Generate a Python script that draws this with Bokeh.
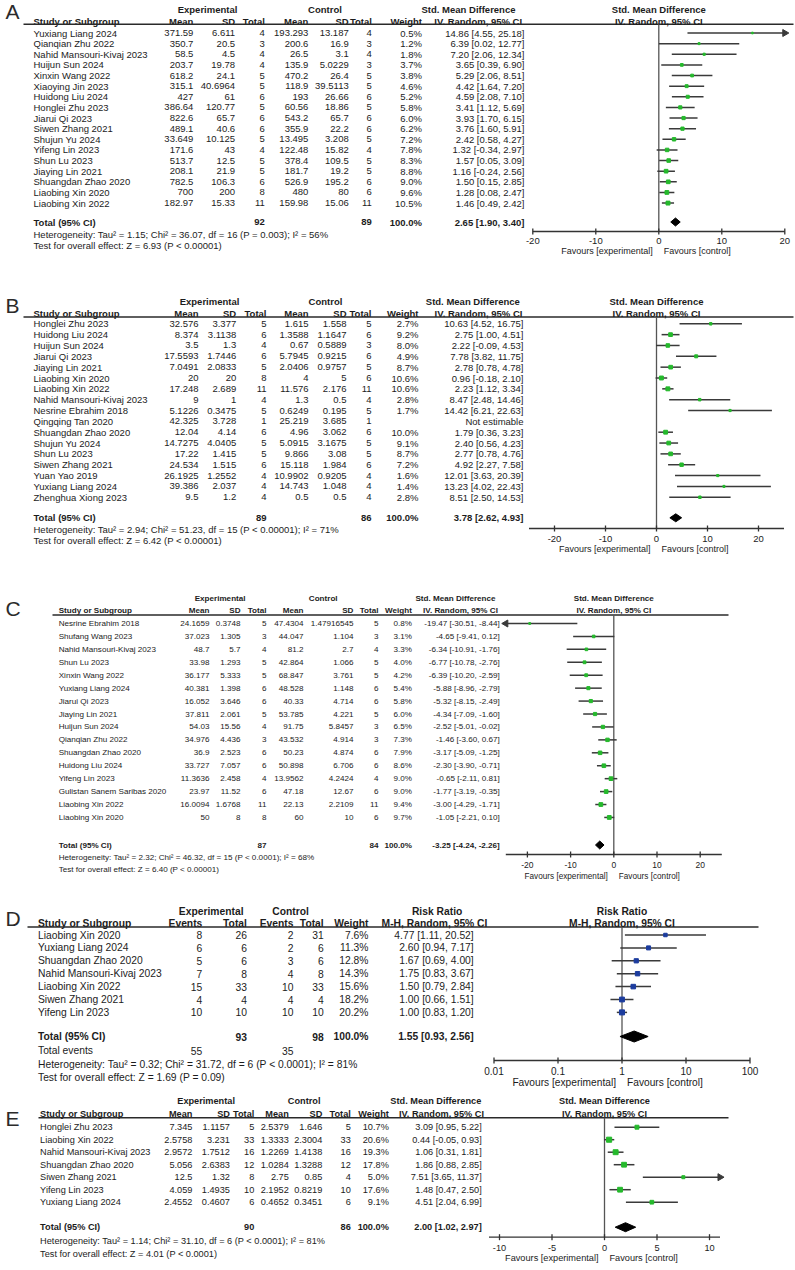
import numpy as np
from bokeh.plotting import figure
from bokeh.models import Range1d, LinearScale
from bokeh.core.properties import value
from bokeh.embed import file_html
from bokeh.resources import INLINE

# ======================= DATA =======================
# ---- Panel A ----
studies_A = ["Yuxiang Liang 2024", "Qianqian Zhu 2022", "Nahid Mansouri-Kivaj 2023", "Huijun Sun 2024",
             "Xinxin Wang 2022", "Xiaoying Jin 2023", "Huidong Liu 2024", "Honglei Zhu 2023", "Jiarui Qi 2023",
             "Siwen Zhang 2021", "Shujun Yu 2024", "Yifeng Lin 2023", "Shun Lu 2023", "Jiaying Lin 2021",
             "Shuangdan Zhao 2020", "Liaobing Xin 2020", "Liaobing Xin 2022"]
exp_mean_A = ["371.59", "350.7", "58.5", "203.7", "618.2", "315.1", "427", "386.64", "822.6", "489.1", "33.649",
              "171.6", "513.7", "208.1", "782.5", "700", "182.97"]
exp_sd_A = ["6.611", "20.5", "4.5", "19.78", "24.1", "40.6964", "61", "120.77", "65.7", "40.6", "10.125", "43",
            "12.5", "21.9", "106.3", "200", "15.33"]
exp_n_A = [4, 3, 4, 4, 5, 5, 6, 5, 6, 6, 5, 4, 5, 5, 6, 8, 11]
ctl_mean_A = ["193.293", "200.6", "26.5", "135.9", "470.2", "118.9", "193", "60.56", "543.2", "355.9", "13.495",
              "122.48", "378.4", "181.7", "526.9", "480", "159.98"]
ctl_sd_A = ["13.187", "16.9", "3.1", "5.0229", "26.4", "39.5113", "26.66", "18.86", "65.7", "22.2", "3.208",
            "15.82", "109.5", "19.2", "195.2", "80", "15.06"]
ctl_n_A = [4, 3, 4, 3, 5, 5, 6, 5, 6, 6, 5, 4, 5, 5, 6, 6, 11]
weight_A = [0.5, 1.2, 1.8, 3.7, 3.8, 4.6, 5.2, 5.8, 6.0, 6.2, 7.2, 7.8, 8.3, 8.8, 9.0, 9.6, 10.5]
smd_A = [14.86, 6.39, 7.20, 3.65, 5.29, 4.42, 4.59, 3.41, 3.93, 3.76, 2.42, 1.32, 1.57, 1.16, 1.50, 1.28, 1.46]
lo_A = [4.55, 0.02, 2.06, 0.39, 2.06, 1.64, 2.08, 1.12, 1.70, 1.60, 0.58, -0.34, 0.05, -0.24, 0.15, 0.08, 0.49]
hi_A = [25.18, 12.77, 12.34, 6.90, 8.51, 7.20, 7.10, 5.69, 6.15, 5.91, 4.27, 2.97, 3.09, 2.56, 2.85, 2.47, 2.42]
total_n_A = [92, 89]
total_ci_A = [2.65, 1.90, 3.40]
het_A = "Heterogeneity: Tau² = 1.15; Chi² = 36.07, df = 16 (P = 0.003); I² = 56%"
test_A = "Test for overall effect: Z = 6.93 (P < 0.00001)"

# ---- Panel B ----
studies_B = ["Honglei Zhu 2023", "Huidong Liu 2024", "Huijun Sun 2024", "Jiarui Qi 2023", "Jiaying Lin 2021",
             "Liaobing Xin 2020", "Liaobing Xin 2022", "Nahid Mansouri-Kivaj 2023", "Nesrine Ebrahim 2018",
             "Qingqing Tan 2020", "Shuangdan Zhao 2020", "Shujun Yu 2024", "Shun Lu 2023", "Siwen Zhang 2021",
             "Yuan Yao 2019", "Yuxiang Liang 2024", "Zhenghua Xiong 2023"]
exp_mean_B = ["32.576", "8.374", "3.5", "17.5593", "7.0491", "20", "17.248", "9", "5.1226", "42.325", "12.04",
              "14.7275", "17.22", "24.534", "26.1925", "39.386", "9.5"]
exp_sd_B = ["3.377", "3.1138", "1.3", "1.7446", "2.0833", "20", "2.689", "1", "0.3475", "3.728", "4.14",
            "4.0405", "1.415", "1.515", "1.2552", "2.037", "1.2"]
exp_n_B = [5, 6, 4, 6, 5, 8, 11, 4, 5, 1, 6, 5, 5, 6, 4, 4, 4]
ctl_mean_B = ["1.615", "1.3588", "0.67", "5.7945", "2.0406", "4", "11.576", "1.3", "0.6249", "25.219", "4.96",
              "5.0915", "9.866", "15.118", "10.9902", "14.743", "0.5"]
ctl_sd_B = ["1.558", "1.1647", "0.5889", "0.9215", "0.9757", "5", "2.176", "0.5", "0.195", "3.685", "3.062",
            "3.1675", "3.08", "1.984", "0.9205", "1.048", "0.5"]
ctl_n_B = [5, 6, 3, 6, 5, 6, 11, 4, 5, 1, 6, 5, 5, 6, 4, 4, 4]
weight_B = [2.7, 9.2, 8.0, 4.9, 8.7, 10.6, 10.6, 2.8, 1.7, None, 10.0, 9.1, 8.7, 7.2, 1.6, 1.4, 2.8]
smd_B = [10.63, 2.75, 2.22, 7.78, 2.78, 0.96, 2.23, 8.47, 14.42, None, 1.79, 2.40, 2.77, 4.92, 12.01, 13.23, 8.51]
lo_B = [4.52, 1.00, -0.09, 3.82, 0.78, -0.18, 1.12, 2.48, 6.21, None, 0.36, 0.56, 0.78, 2.27, 3.63, 4.02, 2.50]
hi_B = [16.75, 4.51, 4.53, 11.75, 4.78, 2.10, 3.34, 14.46, 22.63, None, 3.23, 4.23, 4.76, 7.58, 20.39, 22.43, 14.53]
total_n_B = [89, 86]
total_ci_B = [3.78, 2.62, 4.93]
het_B = "Heterogeneity: Tau² = 2.94; Chi² = 51.23, df = 15 (P < 0.00001); I² = 71%"
test_B = "Test for overall effect: Z = 6.42 (P < 0.00001)"

# ---- Panel C ----
studies_C = ["Nesrine Ebrahim 2018", "Shufang Wang 2023", "Nahid Mansouri-Kivaj 2023", "Shun Lu 2023",
             "Xinxin Wang 2022", "Yuxiang Liang 2024", "Jiarui Qi 2023", "Jiaying Lin 2021", "Huijun Sun 2024",
             "Qianqian Zhu 2022", "Shuangdan Zhao 2020", "Huidong Liu 2024", "Yifeng Lin 2023",
             "Gulistan Sanem Saribas 2020", "Liaobing Xin 2022", "Liaobing Xin 2020"]
exp_mean_C = ["24.1659", "37.023", "48.7", "33.98", "36.177", "40.381", "16.052", "37.811", "54.03", "34.976",
              "36.9", "33.727", "11.3636", "23.97", "16.0094", "50"]
exp_sd_C = ["0.3748", "1.305", "5.7", "1.293", "5.333", "1.398", "3.646", "2.061", "15.56", "4.436", "2.523",
            "7.057", "2.458", "11.52", "1.6768", "8"]
exp_n_C = [5, 3, 4, 5, 5, 6, 6, 5, 4, 3, 6, 6, 4, 6, 11, 8]
ctl_mean_C = ["47.4304", "44.047", "81.2", "42.864", "68.847", "48.528", "40.33", "53.785", "91.75", "43.532",
              "50.23", "50.898", "13.9562", "47.18", "22.13", "60"]
ctl_sd_C = ["1.47916545", "1.104", "2.7", "1.066", "3.761", "1.148", "4.714", "4.221", "5.8457", "4.914", "4.874",
            "6.706", "4.2424", "12.67", "2.2109", "10"]
ctl_n_C = [5, 3, 4, 5, 5, 6, 6, 5, 3, 3, 6, 6, 4, 6, 11, 6]
weight_C = [0.8, 3.1, 3.3, 4.0, 4.2, 5.4, 5.8, 6.0, 6.5, 7.3, 7.9, 8.6, 9.0, 9.0, 9.4, 9.7]
smd_C = [-19.47, -4.65, -6.34, -6.77, -6.39, -5.88, -5.32, -4.34, -2.52, -1.46, -3.17, -2.30, -0.65, -1.77,
         -3.00, -1.05]
lo_C = [-30.51, -9.41, -10.91, -10.78, -10.20, -8.96, -8.15, -7.09, -5.01, -3.60, -5.09, -3.90, -2.11, -3.19,
        -4.29, -2.21]
hi_C = [-8.44, 0.12, -1.76, -2.76, -2.59, -2.79, -2.49, -1.60, -0.02, 0.67, -1.25, -0.71, 0.81, -0.35, -1.71, 0.10]
total_n_C = [87, 84]
total_ci_C = [-3.25, -4.24, -2.26]
het_C = "Heterogeneity: Tau² = 2.32; Chi² = 46.32, df = 15 (P < 0.0001); I² = 68%"
test_C = "Test for overall effect: Z = 6.40 (P < 0.00001)"

# ---- Panel D (risk ratio) ----
studies_D = ["Liaobing Xin 2020", "Yuxiang Liang 2024", "Shuangdan Zhao 2020", "Nahid Mansouri-Kivaj 2023",
             "Liaobing Xin 2022", "Siwen Zhang 2021", "Yifeng Lin 2023"]
exp_events_D = [8, 6, 5, 7, 15, 4, 10]
exp_total_D = [26, 6, 6, 8, 33, 4, 10]
ctl_events_D = [2, 2, 3, 4, 10, 4, 10]
ctl_total_D = [31, 6, 6, 8, 33, 4, 10]
weight_D = [7.6, 11.3, 12.8, 14.3, 15.6, 18.2, 20.2]
rr_D = [4.77, 2.60, 1.67, 1.75, 1.50, 1.00, 1.00]
lo_D = [1.11, 0.94, 0.69, 0.83, 0.79, 0.66, 0.83]
hi_D = [20.52, 7.17, 4.00, 3.67, 2.84, 1.51, 1.20]
total_n_D = [93, 98]
total_events_D = [55, 35]
total_ci_D = [1.55, 0.93, 2.56]
het_D = "Heterogeneity: Tau² = 0.32; Chi² = 31.72, df = 6 (P < 0.0001); I² = 81%"
test_D = "Test for overall effect: Z = 1.69 (P = 0.09)"

# ---- Panel E ----
studies_E = ["Honglei Zhu 2023", "Liaobing Xin 2022", "Nahid Mansouri-Kivaj 2023", "Shuangdan Zhao 2020",
             "Siwen Zhang 2021", "Yifeng Lin 2023", "Yuxiang Liang 2024"]
exp_mean_E = ["7.345", "2.5758", "2.9572", "5.056", "12.5", "4.059", "2.4552"]
exp_sd_E = ["1.1157", "3.231", "1.7512", "2.6383", "1.32", "1.4935", "0.4607"]
exp_n_E = [5, 33, 16, 12, 8, 10, 6]
ctl_mean_E = ["2.5379", "1.3333", "1.2269", "1.0284", "2.75", "2.1952", "0.4652"]
ctl_sd_E = ["1.646", "2.3004", "1.4138", "1.3288", "0.85", "0.8219", "0.3451"]
ctl_n_E = [5, 33, 16, 12, 4, 10, 6]
weight_E = [10.7, 20.6, 19.3, 17.8, 5.0, 17.6, 9.1]
smd_E = [3.09, 0.44, 1.06, 1.86, 7.51, 1.48, 4.51]
lo_E = [0.95, -0.05, 0.31, 0.88, 3.65, 0.47, 2.04]
hi_E = [5.22, 0.93, 1.81, 2.85, 11.37, 2.50, 6.99]
total_n_E = [90, 86]
total_ci_E = [2.00, 1.02, 2.97]
het_E = "Heterogeneity: Tau² = 1.14; Chi² = 31.10, df = 6 (P < 0.0001); I² = 81%"
test_E = "Test for overall effect: Z = 4.01 (P < 0.0001)"

smd_ticks = [-20, -10, 0, 10, 20]
smd_ticks_E = [-10, -5, 0, 5, 10]
rr_ticks = [0.01, 0.1, 1, 10, 100]
rr_tick_labels = ["0.01", "0.1", "1", "10", "100"]

# ======================= STYLE / FIGURE =======================
FONT = "Liberation Sans"
INK = "#1c1c1c"
GREEN = "#25b92c"
BLUE = "#1c3c9e"
CI_COL = "#3a3a3a"

W, H = 795, 1270
p = figure(width=W, height=H, x_range=Range1d(0, W), y_range=Range1d(H, 0),
           output_backend="svg", toolbar_location=None, min_border=0,
           x_axis_location=None, y_axis_location=None)
p.grid.visible = False
p.outline_line_color = None
p.background_fill_color = "white"
p.border_fill_color = "white"


def put(target, xs, ys, texts, size, align="left", bold=False, color=INK, x_offset=0):
    target.text(x=list(xs), y=list(ys), text=list(texts), text_align=align, text_baseline="middle",
                text_font=value(FONT), text_font_size=value(f"{size}px"),
                text_font_style="bold" if bold else "normal", text_color=color, x_offset=x_offset)


def ci_text(e, l, h):
    return f"{e:.2f} [{l:.2f}, {h:.2f}]"


def smd_columns(em, esd, en, cm, csd, cn, w, e, l, h):
    wt = ["" if x is None else f"{x:.1f}%" for x in w]
    ci = ["Not estimable" if a is None else ci_text(a, b, c) for a, b, c in zip(e, l, h)]
    return [em, esd, [str(v) for v in en], cm, csd, [str(v) for v in cn], wt, ci]


def draw_panel(L, names, columns, weights, est, lo, hi, total_cells, total_ci, extra, het, test, F):
    fs = L["fs"]
    put(p, [L["letter_x"]], [L["letter_y"]], [L["letter"]], 21, color="#2b2b2b")
    put(p, [c[0] for c in L["hdr1"]], [L["h1"]] * len(L["hdr1"]), [c[1] for c in L["hdr1"]], fs, "center", True)
    for x, t, a in L["hdr2"]:
        put(p, [x], [L["h2"]], [t], fs, a, True)
    p.segment(x0=[L["lx0"]], y0=[L["line_y"]], x1=[L["lx1"]], y1=[L["line_y"]],
              line_color="#2a2a2a", line_width=1.6)
    ys = np.array([L["row0"] + i * L["dy"] for i in range(len(names))])
    put(p, [L["name_x"]] * len(names), ys, names, fs)
    for x, vals in zip(L["cols"], columns):
        put(p, [x] * len(vals), ys, vals, fs, "right")
    put(p, [L["name_x"]], [L["total_y"]], ["Total (95% CI)"], fs, bold=True)
    for idx, t in total_cells:
        put(p, [L["cols"][idx]], [L["total_y"]], [t], fs, "right", True)
    for label, y, cells in extra:
        put(p, [L["name_x"]], [y], [label], fs)
        for idx, t in cells:
            put(p, [L["cols"][idx]], [y], [t], fs, "right")
    put(p, [L["name_x"]], [L["het_y"]], [het], fs)
    put(p, [L["name_x"]], [L["test_y"]], [test], fs)

    # ---------- forest part (effect scale mapped into its own pixel band) ----------
    tf = np.log10 if F["log"] else (lambda v: np.asarray(v, dtype=float))
    amin, amax = float(tf(F["amin"])), float(tf(F["amax"]))
    sub = p.subplot(x_source=Range1d(amin, amax), y_source=Range1d(H, 0),
                    x_scale=LinearScale(), y_scale=LinearScale(),
                    x_target=Range1d(F["px0"], F["px1"]), y_target=Range1d(H, 0))
    ref = float(tf(F["ref"]))
    put(sub, [ref], [L["h1"]], [F["title"]], fs, "center", True)
    put(sub, [ref], [L["h2"]], [F["subtitle"]], fs, "center", True)
    sub.segment(x0=[ref], y0=[L["line_y"]], x1=[ref], y1=[F["axis_y"]], line_color="#555555", line_width=1.3)

    e = tf(np.array(est, dtype=float))
    l = tf(np.array(lo, dtype=float))
    h = tf(np.array(hi, dtype=float))
    w = np.array(weights, dtype=float)
    ok = ~np.isnan(e)
    lc = np.clip(l, amin, amax)
    hc = np.clip(h, amin, amax)
    sub.segment(x0=lc[ok], y0=ys[ok], x1=hc[ok], y1=ys[ok], line_color=CI_COL, line_width=1.5)
    sizes = 1.0 + 0.9 * np.sqrt(w[ok])
    sub.scatter(x=e[ok], y=ys[ok], marker="square", size=sizes, fill_color=F["mcolor"],
                line_color=F["mcolor"])
    right = ok & (h > amax)
    left = ok & (l < amin)
    if right.any():
        sub.scatter(x=hc[right], y=ys[right], marker="triangle", angle=-np.pi / 2, size=7,
                    fill_color=CI_COL, line_color=CI_COL)
    if left.any():
        sub.scatter(x=lc[left], y=ys[left], marker="triangle", angle=np.pi / 2, size=7,
                    fill_color=CI_COL, line_color=CI_COL)
    te, tl, th = [float(v) for v in tf(np.array(total_ci, dtype=float))]
    ty, dh = L["total_y"], F["dh"]
    sub.patch(x=[tl, te, th, te], y=[ty, ty - dh, ty, ty + dh], fill_color="black", line_color="black")

    ay = F["axis_y"]
    sub.segment(x0=[amin], y0=[ay], x1=[amax], y1=[ay], line_color="#333333", line_width=1.3)
    tk = list(tf(np.array(F["ticks"], dtype=float)))
    sub.segment(x0=tk, y0=[ay - 3] * len(tk), x1=tk, y1=[ay + 3] * len(tk), line_color="#333333", line_width=1.3)
    put(sub, tk, [F["lab_y"]] * len(tk), F["tick_labels"], F["tfs"], "center")
    put(sub, [ref], [F["fav_y"]], ["Favours [experimental]"], F["ffs"], "right", x_offset=-6)
    put(sub, [ref], [F["fav_y"]], ["Favours [control]"], F["ffs"], "left", x_offset=5)


def smd_hdr2(name_x, cols, ci_center):
    labels = ["Mean", "SD", "Total", "Mean", "SD", "Total", "Weight"]
    out = [(name_x, "Study or Subgroup", "left")]
    out += [(x, t, "right") for x, t in zip(cols[:7], labels)]
    out.append((ci_center, "IV. Random, 95% CI", "center"))
    return out


def smd_total_cells(n, ci):
    return [(2, str(n[0])), (5, str(n[1])), (6, "100.0%"), (7, ci_text(*ci))]


# ---------------- Panel A ----------------
cols_A = [192.9, 234.6, 264.3, 307.9, 348.2, 371.4, 421.4, 523.9]
LA = dict(letter="A", letter_x=5, letter_y=11, fs=9.5, h1=9, h2=20.5, line_y=23.8, lx0=23, lx1=793,
          row0=32.5, dy=10.63, name_x=33, total_y=221.5, het_y=233.5, test_y=244.5, cols=cols_A,
          hdr1=[(207, "Experimental"), (324.5, "Control"), (468, "Std. Mean Difference")],
          hdr2=smd_hdr2(33, cols_A, 477.7))
FA = dict(log=False, amin=-20, amax=20, px0=532.3, px1=784.3, ref=0, axis_y=231, lab_y=240.5, fav_y=250,
          ticks=smd_ticks, tick_labels=[str(t) for t in smd_ticks], tfs=9.5, ffs=9,
          title="Std. Mean Difference", subtitle="IV. Random, 95% CI", dh=4, mcolor=GREEN)
draw_panel(LA, studies_A, smd_columns(exp_mean_A, exp_sd_A, exp_n_A, ctl_mean_A, ctl_sd_A, ctl_n_A,
                                      weight_A, smd_A, lo_A, hi_A),
           weight_A, smd_A, lo_A, hi_A, smd_total_cells(total_n_A, total_ci_A), total_ci_A, [],
           het_A, test_A, FA)

# ---------------- Panel B ----------------
cols_B = [198, 235.7, 266, 308, 346, 371, 418, 523]
LB = dict(letter="B", letter_x=5, letter_y=305, fs=9.5, h1=301, h2=313, line_y=316.5, lx0=23, lx1=793,
          row0=323.3, dy=10.84, name_x=33, total_y=517.3, het_y=529.3, test_y=539.5, cols=cols_B,
          hdr1=[(209, "Experimental"), (325, "Control"), (472.3, "Std. Mean Difference")],
          hdr2=smd_hdr2(33, cols_B, 478))
FB = dict(log=False, amin=-25, amax=25, px0=528.5, px1=783.5, ref=0, axis_y=528, lab_y=538, fav_y=548,
          ticks=smd_ticks, tick_labels=[str(t) for t in smd_ticks], tfs=9.5, ffs=9,
          title="Std. Mean Difference", subtitle="IV. Random, 95% CI", dh=4, mcolor=GREEN)
draw_panel(LB, studies_B, smd_columns(exp_mean_B, exp_sd_B, exp_n_B, ctl_mean_B, ctl_sd_B, ctl_n_B,
                                      weight_B, smd_B, lo_B, hi_B),
           weight_B, smd_B, lo_B, hi_B, smd_total_cells(total_n_B, total_ci_B), total_ci_B, [],
           het_B, test_B, FB)

# ---------------- Panel C ----------------
cols_C = [209, 240, 266, 302.9, 352.9, 377.9, 411.4, 499.3]
LC = dict(letter="C", letter_x=5, letter_y=608, fs=8.1, h1=597.7, h2=610.3, line_y=614.5, lx0=52, lx1=728,
          row0=623, dy=12.93, name_x=58.2, total_y=844.5, het_y=857.3, test_y=868.7, cols=cols_C,
          hdr1=[(219.6, "Experimental"), (322.7, "Control"), (455, "Std. Mean Difference")],
          hdr2=smd_hdr2(58.2, cols_C, 460))
FC = dict(log=False, amin=-25, amax=25, px0=505.3, px1=721.3, ref=0, axis_y=854, lab_y=864, fav_y=875.7,
          ticks=smd_ticks, tick_labels=[str(t) for t in smd_ticks], tfs=8.5, ffs=8.2,
          title="Std. Mean Difference", subtitle="IV. Random, 95% CI", dh=4, mcolor=GREEN)
draw_panel(LC, studies_C, smd_columns(exp_mean_C, exp_sd_C, exp_n_C, ctl_mean_C, ctl_sd_C, ctl_n_C,
                                      weight_C, smd_C, lo_C, hi_C),
           weight_C, smd_C, lo_C, hi_C, smd_total_cells(total_n_C, total_ci_C), total_ci_C, [],
           het_C, test_C, FC)

# ---------------- Panel D ----------------
cols_D = [201.8, 246.4, 292.9, 323.2, 367.9, 473.2]
LD = dict(letter="D", letter_x=5, letter_y=918, fs=10.3, h1=910.5, h2=923, line_y=926.5, lx0=27, lx1=758,
          row0=934.5, dy=12.9, name_x=37.5, total_y=1036, het_y=1064, test_y=1077, cols=cols_D,
          hdr1=[(210.7, "Experimental"), (290, "Control"), (436.6, "Risk Ratio")],
          hdr2=[(37.5, "Study or Subgroup", "left"), (201.8, "Events", "right"), (246.4, "Total", "right"),
                (292.9, "Events", "right"), (323.2, "Total", "right"), (367.9, "Weight", "right"),
                (434, "M-H, Random, 95% CI", "center")])
cols_D_vals = [[str(v) for v in exp_events_D], [str(v) for v in exp_total_D],
               [str(v) for v in ctl_events_D], [str(v) for v in ctl_total_D],
               [f"{v:.1f}%" for v in weight_D],
               [ci_text(a, b, c) for a, b, c in zip(rr_D, lo_D, hi_D)]]
FD = dict(log=True, amin=0.01, amax=100, px0=493.5, px1=749.5, ref=1, axis_y=1060, lab_y=1070.5, fav_y=1082,
          ticks=rr_ticks, tick_labels=rr_tick_labels, tfs=10, ffs=10.2,
          title="Risk Ratio", subtitle="M-H, Random, 95% CI", dh=5.5, mcolor=BLUE)
draw_panel(LD, studies_D, cols_D_vals, weight_D, rr_D, lo_D, hi_D,
           [(1, str(total_n_D[0])), (3, str(total_n_D[1])), (4, "100.0%"), (5, ci_text(*total_ci_D))],
           total_ci_D, [("Total events", 1050, [(0, str(total_events_D[0])), (2, str(total_events_D[1]))])],
           het_D, test_D, FD)

# ---------------- Panel E ----------------
cols_E = [191.9, 229.4, 253.8, 288.3, 321.8, 350.3, 388.3, 481.2]
LE = dict(letter="E", letter_x=5, letter_y=1118, fs=9.2, h1=1100.7, h2=1113.7, line_y=1117.3, lx0=38, lx1=728,
          row0=1126.7, dy=12.5, name_x=39.6, total_y=1226.7, het_y=1240, test_y=1253, cols=cols_E,
          hdr1=[(205.6, "Experimental"), (303.6, "Control"), (435.3, "Std. Mean Difference")],
          hdr2=smd_hdr2(39.6, cols_E, 441))
FE = dict(log=False, amin=-11, amax=11, px0=488.5, px1=719.5, ref=0, axis_y=1236.7, lab_y=1247, fav_y=1257.5,
          ticks=smd_ticks_E, tick_labels=[str(t) for t in smd_ticks_E], tfs=9.2, ffs=9.2,
          title="Std. Mean Difference", subtitle="IV. Random, 95% CI", dh=4.5, mcolor=GREEN)
draw_panel(LE, studies_E, smd_columns(exp_mean_E, exp_sd_E, exp_n_E, ctl_mean_E, ctl_sd_E, ctl_n_E,
                                      weight_E, smd_E, lo_E, hi_E),
           weight_E, smd_E, lo_E, hi_E, smd_total_cells(total_n_E, total_ci_E), total_ci_E, [],
           het_E, test_E, FE)

open("out.html", "w").write(file_html(p, INLINE))
